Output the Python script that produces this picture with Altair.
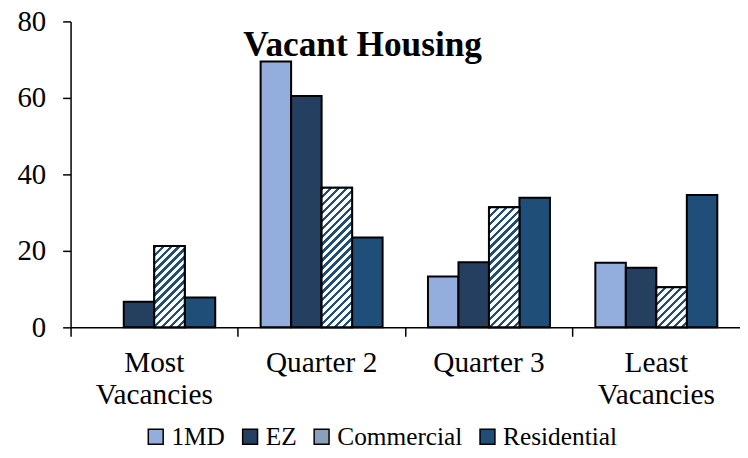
import altair as alt
import pandas as pd

# ---- data ----
categories = ["Most Vacancies", "Quarter 2", "Quarter 3", "Least Vacancies"]
series = ["1MD", "EZ", "Commercial", "Residential"]
v_1md = [None, 69.5, 13.3, 16.9]
v_ez = [6.7, 60.5, 17.0, 15.6]
v_commercial = [21.3, 36.5, 31.4, 10.5]
v_residential = [7.8, 23.5, 33.9, 34.6]
y_ticks = [0, 20, 40, 60, 80]

# ---- layout / style ----
W_PLOT, H_PLOT, Y_MAX = 674, 308, 80
PAD_OUT = 0.744
STEP = W_PLOT / len(categories)
BAR_W = STEP / (len(series) + 2 * PAD_OUT)
DARK = "#1f4e79"
FONT = "Liberation Serif"
legend_colors = ["#93aedd", "#243f60", "#8aa0ba", "#1f4e79"]


def stripe_fill(v):
    """Diagonal hatch as a hard-stop linear gradient sized to the bar."""
    w = BAR_W
    h = max(v * H_PLOT / Y_MAX, 1.0)
    s = (w + h) * w / (w * w + h * h)
    n = (w + h) / 8.0
    stops = []
    k = 0
    while k < n:
        a = k / n
        b = min((k + 0.42) / n, 1.0)
        c = min((k + 1) / n, 1.0)
        stops += [
            {"offset": a, "color": DARK},
            {"offset": b, "color": DARK},
            {"offset": b, "color": "#ffffff"},
            {"offset": c, "color": "#ffffff"},
        ]
        k += 1
    return {"gradient": "linear", "x1": 0, "y1": 0, "x2": s, "y2": s * h / w, "stops": stops}


rows = []
for name, vals in zip(series, [v_1md, v_ez, v_commercial, v_residential]):
    for cat, v in zip(categories, vals):
        row = {"category": cat, "series": name, "value": v}
        if name == "Commercial" and v is not None:
            row["hatch"] = stripe_fill(v)
        rows.append(row)

data = alt.Data(values=rows)

x_enc = alt.X(
    "category:N",
    sort=categories,
    scale=alt.Scale(paddingInner=0, paddingOuter=0),
    axis=alt.Axis(
        title=None,
        labelAngle=0,
        labelFont=FONT,
        labelFontSize=29.5,
        labelColor="black",
        labelLineHeight=33,
        labelPadding=12,
        labelExpr="indexof(datum.label, 'Vacancies') > 0 ? split(datum.label, ' ') : datum.label",
        labelOverlap=False,
        labelLimit=300,
        bandPosition=0,
        tickSize=9,
        tickWidth=1.5,
        tickColor="black",
        domainColor="black",
        domainWidth=1.5,
        grid=False,
    ),
)
xo_enc = alt.XOffset(
    "series:N",
    sort=series,
    scale=alt.Scale(domain=series, paddingInner=0, paddingOuter=PAD_OUT),
)
y_enc = alt.Y(
    "value:Q",
    scale=alt.Scale(domain=[0, Y_MAX], nice=False),
    axis=alt.Axis(
        title=None,
        values=y_ticks,
        labelFont=FONT,
        labelFontSize=29,
        labelColor="black",
        labelPadding=17,
        tickSize=8,
        tickWidth=1.5,
        tickColor="black",
        domainColor="black",
        domainWidth=1.5,
        grid=False,
    ),
)

bars = alt.Chart(data).mark_bar(stroke="black", strokeWidth=2, opacity=1).encode(
    x=x_enc,
    xOffset=xo_enc,
    y=y_enc,
    color=alt.Color(
        "series:N",
        sort=series,
        scale=alt.Scale(domain=series, range=legend_colors),
        legend=alt.Legend(
            title=None,
            orient="none",
            legendX=73,
            legendY=405,
            direction="horizontal",
            symbolType="square",
            symbolSize=225,
            symbolStrokeColor="black",
            symbolStrokeWidth=1.5,
            symbolOpacity=1,
            labelFont=FONT,
            labelFontSize=25.5,
            labelColor="black",
            labelOffset=3,
            columnPadding=12,
        ),
    ),
)

hatch = (
    alt.Chart(data)
    .transform_filter("datum.series == 'Commercial' && isValid(datum.value)")
    .mark_bar(stroke="black", strokeWidth=2)
    .encode(
        x=x_enc,
        xOffset=xo_enc,
        y=y_enc,
        fill=alt.Fill("hatch:N", scale=None, legend=None),
    )
)

chart = (
    alt.layer(bars, hatch)
    .properties(
        width=W_PLOT,
        height=H_PLOT,
        autosize=alt.AutoSizeParams(type="none"),
        padding={"left": 63, "top": 12, "right": 0, "bottom": 125},
        title=alt.TitleParams(
            "Vacant Housing",
            font=FONT,
            fontSize=35.5,
            fontWeight="bold",
            color="black",
            anchor="middle",
            dx=-43,
            dy=60,
        ),
    )
    .configure_view(stroke=None)
)

chart.save("out.html", embed_options={"renderer": "svg", "actions": False})
